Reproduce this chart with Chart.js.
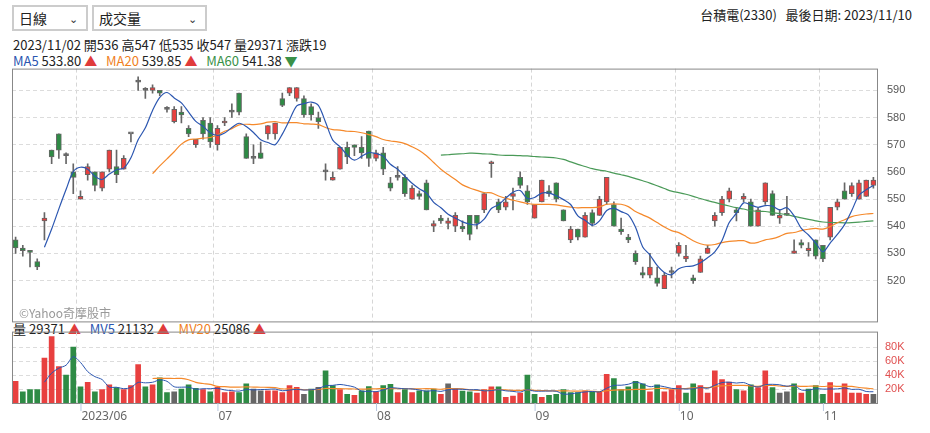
<!DOCTYPE html>
<html><head><meta charset="utf-8">
<script src="https://cdn.jsdelivr.net/npm/chart.js@4"></script>
<style>
body{margin:0;width:930px;height:433px;background:#fff;font-family:"Noto Sans CJK TC","Noto Sans",Arial,sans-serif;position:relative;overflow:hidden;font-size:13px;color:#222}
.sel{position:absolute;top:5px;height:26px;border:2px solid #ccc;box-sizing:border-box;font-size:14px;line-height:22px;padding-left:5px;background:#fff}
.sel span{position:absolute;right:8px;top:0;font-size:11px;color:#333}
.t{position:absolute;white-space:nowrap}
canvas{position:absolute;left:0}
</style></head><body>
<div class="sel" style="left:12px;width:76px">日線<span>&#8964;</span></div>
<div class="sel" style="left:92px;width:115px">成交量<span>&#8964;</span></div>
<div class="t" style="right:18px;top:5px">台積電(2330)&nbsp;&nbsp;&nbsp;最後日期: 2023/11/10</div>
<div class="t" style="left:13px;top:35px">2023/11/02 開536 高547 低535 收547 量29371 漲跌19</div>
<div class="t" style="left:13px;top:51px"><span style="color:#2b56b0">MA5</span> 533.80 <span style="color:#e03b3b">▲</span>&nbsp;&nbsp; <span style="color:#f07f1e">MA20</span> 539.85 <span style="color:#e03b3b">▲</span>&nbsp;&nbsp; <span style="color:#3a9148">MA60</span> 541.38 <span style="color:#3a9148">▼</span></div>
<div class="t" style="left:13px;top:319px">量 29371 <span style="color:#e03b3b">▲</span>&nbsp;&nbsp; <span style="color:#2b56b0">MV5</span> 21132 <span style="color:#e03b3b">▲</span>&nbsp;&nbsp; <span style="color:#f07f1e">MV20</span> 25086 <span style="color:#e03b3b">▲</span></div>
<canvas id="vol" width="930" height="116" style="top:317px"></canvas>
<canvas id="price" width="930" height="286" style="top:52px"></canvas>
<div class="t" style="left:19px;top:304px;color:#999;font-size:12px">©Yahoo奇摩股市</div>
<script>
// 每日 開 收 高 低
const opens = [535,532,530.5,527,542,568,574,566,560,550,559,560,554,561,562,561,574,593,590,590,590,583,578.5,582,576,570,579,578,570,578,582,589,573,565,567,574,574,587,589,587,587,584,580,560,557,561,569,570,569,575,565,567,556,558,558,550,552,556,540,543,541,540,540,544,544,546,563,549,547,551,558,553,543,549,553,556,546,535,539,536,545,544,549,548,539,536,530,523,522,521,517,523,530,528,521,523,530,542,545,550,546,550,549,540,549,552,543,544,530,534,531,535,533,536,547,553,552,550,551,555];
const closes = [532,531,530.4,525,543,565.5,568,566,558,551,562,555,560,568,559,565,574,593,590,591,589,583,583,581,574,572,574,571,576,578.5,582,582,565,565,565,577,578,584.5,591,591,581,581,578.5,560,558,569,565.5,569,567,565,567,561,554,558,552,554,551,546,541,542,542,544,539,537,541,552,563.7,546,549,552,555,549,548,557,552,550,542,539,536,544,541,550,558,540,538,535,527,522,525,519,522,523,533,529,520,528,532,544,550,553,545,551,540,546,556,544,544,544,531,533,532,529,528,547,549,550,555,556,557,557];
const highs = [536,533,531,528,545,568,574,567,563,553,563,560,560,568,568,566,574,595,591,592,590,584,584,584,577,572,580,580,577,580,585,589,574,570,571,577,578,589,591,591,588,585,582,563,560,569,571,570,573,575,568,569,558,562,559,555,553,557,542,544,543,545,542,544,544,552,564,550,551,554,560,555,548,557,555,556,546,540,539,545,546,551,558,549,543,537,531,525,530,525,523,525,534,533,522,529,533,545,551,554,547,552,550,547,556,553,546,551,535,535,534,535,533,547,550,556,556,557,557,558];
const lows = [530,529,525,524,535,563,565,563,552,550,557,553,553,560,556,561,571,590,587,589,588,582,578,578,573,569,572,569,568,577,580,581,565,563,565,572,572,584,588,586,580,579,576,557,557,561,563,566,565,562,564,559,553,557,551,550,550,546,538,541,539,538,538,535,539,545,558,545,546,546,554,548,543,549,551,549,542,534,535,536,540,544,548,540,537,534,526,521,521,518,517,521,529,527,519,523,530,540,544,549,542,549,540,540,548,544,541,544,530,532,529,528,527,535,546,550,551,550,551,554];
// 成交量(張) 與 顏色: r 漲 g 跌 n 平
const volumes = [31,16,19,19,64,95,52,40,80,23,29.5,16,19,26,22,19,25,55,23,26,36,15,16,20,26,21,19,16,22.5,15,16,15,27.5,20,17.5,17.5,17.5,15,25,22.5,12.5,20,22.5,46,25,19,12.5,11,17.5,23.5,16,25,26.5,15,19,15,17.5,17.5,20,12.5,27.5,21,17,16,14,19,23,23,8,10,14,40,12.5,8,11,12.5,19,15,15,17.5,16,16,41,35,19,23,31,27.5,16,26,16,19,25,14,27.5,25,14,46,33.5,30,19,17.5,26,22,46,22,14,16,27.5,14,20,25,12.5,29,14,27.5,14,14,12.5,12.5].map(v => v * 1000);
const volDirs = ("rgggrrrggg" + "rgrrgrrrgr" + "ggngggrgrr" + "rggnnrrrrr" + "ngn" + "ggrgrggrggrgrgggrn" +
                 "rggrrrgrrr" + "ggrgggggrg" + "rrgggggrgr" + "rrggrrrrrg" + "rgrrgnngrg" + "ggrrrrrrn").split("");
// 月份刻度
const monthIdx = [9, 28, 50, 72, 92, 112];
const monthLabels = ["2023/06", "07", "08", "09", "10", "11"];
const priceTicks = [520, 530, 540, 550, 560, 570, 580, 590];
const volTicks = [20000, 40000, 60000, 80000];

const RED = '#e8403f', GREEN = '#2e8b45', GREY = '#666';
const labels = closes.map((c, i) => i);

function ma(arr, n) {
  return arr.map((v, i) => {
    if (i < n - 1) return null;
    let s = 0;
    for (let k = i - n + 1; k <= i; k++) s += arr[k];
    return s / n;
  });
}

const candleColor = opens.map((o, i) => closes[i] > o ? RED : (closes[i] < o ? GREEN : GREY));
const volColor = volDirs.map(d => d === 'r' ? RED : (d === 'g' ? GREEN : GREY));

const frame = {
  id: 'frame',
  afterDraw(chart) {
    const a = chart.chartArea, ctx = chart.ctx;
    ctx.save();
    ctx.strokeStyle = '#888';
    ctx.lineWidth = 1;
    ctx.strokeRect(a.left + 0.5, a.top + 0.5, a.right - a.left, a.bottom - a.top);
    ctx.restore();
  }
};

const xGrid = {
  color: ctx => monthIdx.includes(ctx.tick && ctx.tick.value) ? '#d6d6d6' : 'transparent',
  tickLength: 0
};

new Chart(document.getElementById('price'), {
  type: 'bar',
  data: {
    labels: labels,
    datasets: [
      { type: 'line', data: ma(closes, 5), borderColor: '#2b56b0', borderWidth: 1.2, pointRadius: 0, tension: 0.3, order: 0 },
      { type: 'line', data: ma(closes, 20), borderColor: '#f5892b', borderWidth: 1.2, pointRadius: 0, tension: 0.3, order: 0 },
      { type: 'line', data: ma(closes, 60), borderColor: '#4a9a58', borderWidth: 1.2, pointRadius: 0, tension: 0.3, order: 0 },
      { data: lows.map((l, i) => [l, highs[i]]), backgroundColor: GREY, barThickness: 1, grouped: false, order: 2 },
      { data: opens.map((o, i) => [o, closes[i]]), backgroundColor: candleColor, borderColor: '#666', borderWidth: 1,
        borderSkipped: false, barThickness: 5, minBarLength: 2, grouped: false, order: 1 }
    ]
  },
  options: {
    responsive: false, animation: false,
    layout: { padding: { left: 12, top: 0, right: 0, bottom: 0 } },
    plugins: { legend: { display: false }, tooltip: { enabled: false } },
    scales: {
      x: {
        grid: { ...xGrid, lineWidth: 1 }, border: { display: false, dash: [4, 3] },
        ticks: { display: false },
        afterFit: s => { s.height = 0; }
      },
      y: {
        position: 'right', min: 505, max: 598,
        afterBuildTicks: s => { s.ticks = priceTicks.map(v => ({ value: v })); },
        grid: { color: '#dcdcdc', tickLength: 0 }, border: { display: false, dash: [4, 3] },
        ticks: { color: '#555', font: { size: 11 }, padding: 10 },
        afterFit: s => { s.width = 53; }
      }
    }
  },
  plugins: [frame]
});

const monthText = {
  id: 'monthText',
  afterDraw(chart) {
    const ctx = chart.ctx, x = chart.scales.x, a = chart.chartArea;
    ctx.save();
    ctx.font = '12px "Noto Sans", sans-serif';
    ctx.fillStyle = '#666';
    ctx.textAlign = 'left';
    ctx.textBaseline = 'top';
    monthIdx.forEach((idx, k) => {
      const px = x.getPixelForValue(idx);
      ctx.strokeStyle = '#b8c8e0';
      ctx.beginPath(); ctx.moveTo(px + 0.5, a.bottom); ctx.lineTo(px + 0.5, a.bottom + 8); ctx.stroke();
      ctx.fillText(monthLabels[k], px + 1, a.bottom + 8);
    });
    ctx.restore();
  }
};

new Chart(document.getElementById('vol'), {
  type: 'bar',
  data: {
    labels: labels,
    datasets: [
      { type: 'line', data: ma(volumes, 5), borderColor: '#2b56b0', borderWidth: 1, pointRadius: 0, tension: 0.3, order: 0 },
      { type: 'line', data: ma(volumes, 20), borderColor: '#f5892b', borderWidth: 1.2, pointRadius: 0, tension: 0.3, order: 0 },
      { data: volumes, backgroundColor: volColor, barThickness: 5, order: 1 }
    ]
  },
  options: {
    responsive: false, animation: false,
    layout: { padding: { left: 12, top: 13, right: 0, bottom: 30 } },
    plugins: { legend: { display: false }, tooltip: { enabled: false } },
    scales: {
      x: {
        grid: xGrid, border: { display: false, dash: [4, 3] },
        ticks: { display: false },
        afterFit: s => { s.height = 0; }
      },
      y: {
        position: 'right', min: 0, max: 102000,
        afterBuildTicks: s => { s.ticks = volTicks.map(v => ({ value: v })); },
        grid: { color: '#dcdcdc', tickLength: 0 }, border: { display: false, dash: [4, 3] },
        ticks: { color: '#e05050', font: { size: 11 }, padding: 8, callback: v => (v / 1000) + 'K' },
        afterFit: s => { s.width = 53; }
      }
    }
  },
  plugins: [frame, monthText]
});
</script>
</body></html>
